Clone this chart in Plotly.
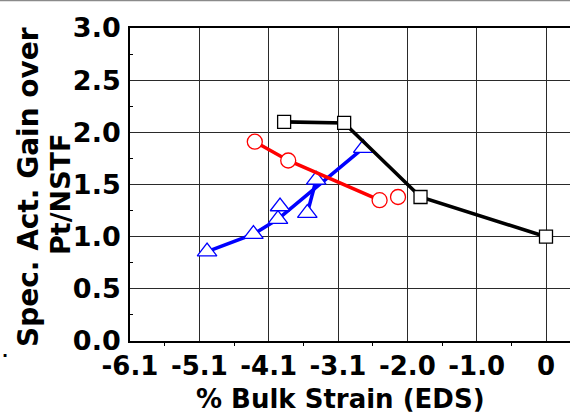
import numpy as np
import plotly.graph_objects as go

# Strain axis: ticks evenly spaced from -6.1 % to 0 %, labels rounded to one decimal
tick_labels = ["-6.1", "-5.1", "-4.1", "-3.1", "-2.0", "-1.0", "0"]
tick_positions = np.linspace(-6.1, 0.0, len(tick_labels))

# Series: specific activity gain vs. bulk strain
black_x = [-3.84, -2.96, -1.84, 0.00]
black_y = [2.10, 2.09, 1.38, 1.00]

red_x = [-4.27, -3.78, -2.44, None, -2.17]
red_y = [1.91, 1.73, 1.35, None, 1.38]

blue_x = [-4.97, -4.29, -3.93, -2.68, None, -3.50, -3.37, None, -3.90]
blue_y = [0.857, 1.024, 1.168, 1.849, None, 1.226, 1.545, None, 1.289]

FONT = "DejaVu Sans"
W, H = 570, 416
L, R, T, B = 130, 0, 28, 75
px_per_unit = 416 / 6.1
x_max = (W - L - R) / px_per_unit - 6.1

fig = go.Figure()

fig.add_trace(go.Scatter(
    x=blue_x, y=blue_y, mode="lines+markers",
    line=dict(color="#0000ff", width=3.6),
    marker=dict(symbol="triangle-up", size=17, color="white",
                line=dict(color="#0000ff", width=1.3)),
    connectgaps=False, showlegend=False))

fig.add_trace(go.Scatter(
    x=red_x, y=red_y, mode="lines+markers",
    line=dict(color="#ff0000", width=3.6),
    marker=dict(symbol="circle", size=15, color="white",
                line=dict(color="#ff0000", width=1.3)),
    connectgaps=False, showlegend=False))

fig.add_trace(go.Scatter(
    x=black_x, y=black_y, mode="lines+markers",
    line=dict(color="black", width=3.6),
    marker=dict(symbol="square", size=13, color="white",
                line=dict(color="black", width=1.3)),
    showlegend=False))

grid = "#2a2a2a"
fig.update_xaxes(
    range=[-6.1, x_max], tickmode="array", tickvals=tick_positions,
    ticktext=tick_labels, ticks="", showgrid=True, gridcolor=grid, gridwidth=1.3,
    zeroline=False, showline=True, linecolor="black", linewidth=1.8, mirror=True,
    tickfont=dict(family=FONT, size=26, color="black", weight="bold"),
    ticklabelstandoff=1,
    minor=dict(tickmode="array", tickvals=(tick_positions[:-1] + tick_positions[1:]) / 2,
               ticks="outside", ticklen=3, tickcolor="black", showgrid=False),
)
fig.update_yaxes(
    range=[0, 3], tickmode="array", tickvals=[0, 0.5, 1.0, 1.5, 2.0, 2.5, 3.0],
    ticktext=["0.0", "0.5", "1.0", "1.5", "2.0", "2.5", "3.0"], ticks="",
    showgrid=True, gridcolor=grid, gridwidth=1.3, zeroline=False,
    showline=True, linecolor="black", linewidth=1.8, mirror=False,
    tickfont=dict(family=FONT, size=27, color="black", weight="bold"),
    ticklabelstandoff=2,
    minor=dict(tickmode="array", tickvals=[0.25, 0.75, 1.25, 1.75, 2.25, 2.75],
               ticks="inside", ticklen=3, tickcolor="black", showgrid=False),
)

plot_w = W - L - R
plot_h = H - T - B


def px_x(p):
    return (p - L) / plot_w


def px_y(p):
    return (H - B - p) / plot_h


title_font = dict(family=FONT, size=26, color="black", weight="bold")
annotations = [
    dict(text="% Bulk Strain (EDS)", xref="paper", yref="paper",
         x=px_x(340), y=px_y(H), xanchor="center", yanchor="bottom",
         showarrow=False, font=title_font),
    dict(text="Spec. Act. Gain over", xref="paper", yref="paper",
         x=px_x(28), y=px_y(187), xanchor="center", yanchor="middle",
         textangle=-90, showarrow=False, font=dict(title_font, size=28)),
    dict(text="Pt/NSTF", xref="paper", yref="paper",
         x=px_x(61), y=px_y(195), xanchor="center", yanchor="middle",
         textangle=-90, showarrow=False, font=dict(title_font, size=27)),
    dict(text=".", xref="paper", yref="paper",
         x=px_x(0), y=px_y(351), xanchor="left", yanchor="middle",
         showarrow=False, font=dict(title_font, size=16)),
]

shapes = [
    dict(type="line", xref="paper", yref="paper", x0=px_x(0), x1=px_x(W),
         y0=px_y(0.5), y1=px_y(0.5), line=dict(color="#8a8a8a", width=1.5)),
]

fig.update_layout(
    width=W, height=H, margin=dict(l=L, r=R, t=T, b=B, pad=0),
    paper_bgcolor="white", plot_bgcolor="white",
    annotations=annotations, shapes=shapes, showlegend=False,
)

fig.write_html("out.html")
